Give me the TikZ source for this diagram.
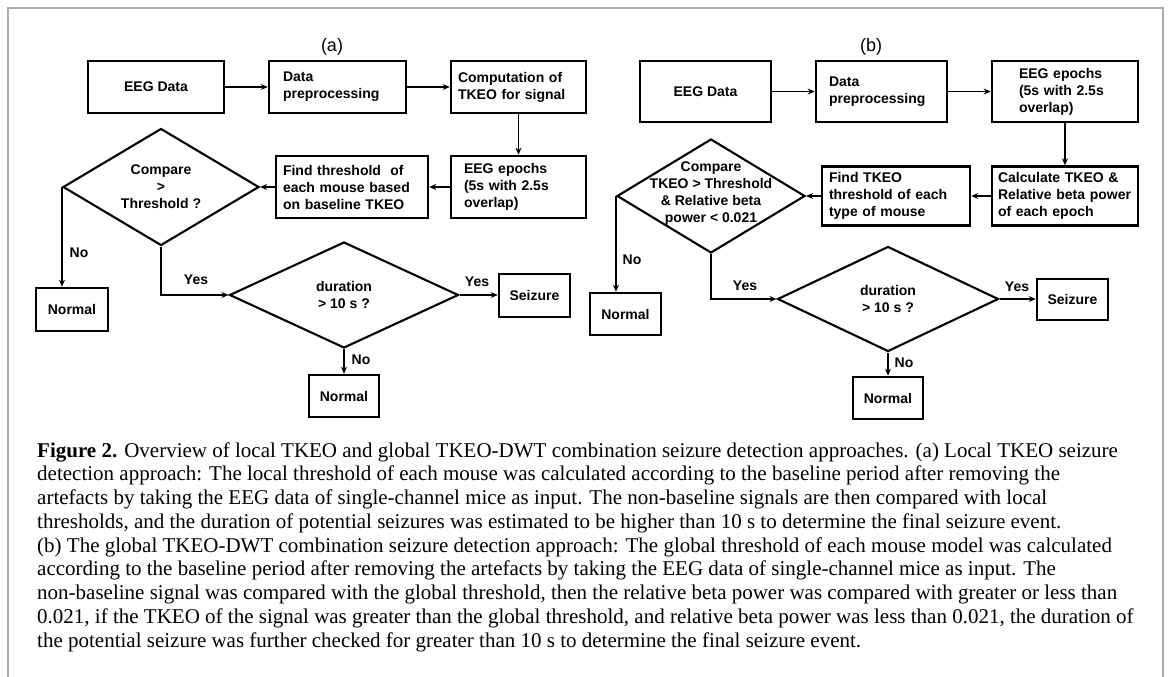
\documentclass[tikz,border=0pt]{standalone}
\usepackage{fontspec}
\setmainfont{Liberation Serif}
\newfontfamily\arial{Liberation Sans}
\usetikzlibrary{shapes.geometric,arrows.meta}
\definecolor{framec}{HTML}{ABABAB}
\begin{document}
\begin{tikzpicture}[x=1pt,y=-1pt,
  every node/.style={font=\arial\bfseries\fontsize{14}{17}\selectfont},
  cbox/.style 2 args={draw,line width=2.5pt,minimum width=#1,minimum height=#2,inner sep=0pt,align=center},
  lbox/.style n args={4}{draw,line width=2.5pt,minimum width=#1,minimum height=#2,inner ysep=0pt,inner xsep=#3,text width=#4,align=left},
  dia/.style 2 args={diamond,draw,line width=2.1pt,minimum width=#1,minimum height=#2,inner sep=0pt},
  arr/.style={line width=1.6pt,-{Stealth[length=7pt,width=6pt]}},
  plabel/.style={font=\arial\fontsize{18}{21}\selectfont},
  captext/.style={font=\rmfamily\mdseries\fontsize{21}{23.75}\selectfont,anchor=base west,inner sep=0pt}]
\useasboundingbox (0,0) rectangle (1168,677);
\draw[framec,line width=1.5pt] (8,677) -- (8,8) -- (1163,8) -- (1163,677);

% ---------- panel (a)
\node[plabel] (la) at (332,47) {(a)};
\node[cbox={136pt}{52pt}] (a1) at (156,87) {EEG Data};
\node[lbox={137pt}{52pt}{14pt}{109pt}] (a2) at (337.5,87) {Data\\preprocessing};
\node[lbox={135pt}{52pt}{7pt}{121pt}] (a3) at (518.5,87) {Computation of\\TKEO for signal};
\node[lbox={135pt}{62pt}{13pt}{109pt}] (a4) at (518.5,187) {EEG epochs\\(5s with 2.5s\\overlap)};
\node[lbox={152pt}{62pt}{7pt}{138pt}] (a5) at (352,187) {Find threshold\ \ of\\each mouse based\\on baseline TKEO};
\node[dia={196pt}{117pt}] (a6) at (161,187) {};
\node[align=center] (a6t) at (a6.center) {Compare\\>\\Threshold ?};
\node[cbox={72pt}{43pt}] (a7) at (72,309.5) {Normal};
\node[dia={229pt}{106pt}] (a8) at (344,295) {};
\node[align=center] (a8t) at (a8.center) {duration\\> 10 s ?};
\node[cbox={71pt}{43pt}] (a9) at (534.5,295.5) {Seizure};
\node[cbox={70pt}{42pt}] (a10) at (344,396) {Normal};

\draw[arr] (a1) -- (a2);
\draw[arr] (a2) -- (a3);
\draw[arr] (a3) -- (a4);
\draw[arr] (a4) -- (a5);
\draw[arr] (a5) -- (a6.east);
\draw[arr] (a6.west) -- (a6.west |- a7.north);
\draw[arr] (a6.south) |- (a8.west);
\draw[arr] (a8.east) -- (a8.east -| a9.west);
\draw[arr] (a8.south) -- (a10.north);

\node (a6no) at (79,253) {No};
\node (a6yes) at (196,280) {Yes};
\node (a8yes) at (477,282) {Yes};
\node (a8no) at (361,360) {No};

% ---------- panel (b)
\node[plabel] (lb) at (871,47) {(b)};
\node[cbox={131pt}{61pt}] (b1) at (705.5,91.5) {EEG Data};
\node[lbox={131pt}{61pt}{13pt}{105pt}] (b2) at (881.5,91.5) {Data\\preprocessing};
\node[lbox={146pt}{61pt}{27pt}{92pt}] (b3) at (1065,91.5) {EEG epochs\\(5s with 2.5s\\overlap)};
\node[lbox={146pt}{59pt}{6pt}{134pt}] (b4) at (1065,196) {Calculate TKEO \&\\Relative beta power\\of each epoch};
\node[lbox={148pt}{59pt}{7pt}{134pt}] (b5) at (896,196) {Find TKEO\\threshold of each\\type of mouse};
\node[dia={188pt}{114pt}] (b6) at (711,196) {};
\node[align=center] (b6t) at (711,194) {Compare\\TKEO > Threshold\\\& Relative beta\\power < 0.021};
\node[cbox={71pt}{42pt}] (b7) at (625.5,314) {Normal};
\node[dia={221pt}{105pt}] (b8) at (888,299) {};
\node[align=center] (b8t) at (b8.center) {duration\\> 10 s ?};
\node[cbox={71pt}{41pt}] (b9) at (1072.5,299.5) {Seizure};
\node[cbox={70pt}{42pt}] (b10) at (888,398) {Normal};

\draw[arr] (b1) -- (b2);
\draw[arr] (b2) -- (b3);
\draw[arr] (b3) -- (b4);
\draw[arr] (b4) -- (b5);
\draw[arr] (b5) -- (b6.east);
\draw[arr] (b6.west) -- (b6.west |- b7.north);
\draw[arr] (b6.south) |- (b8.west);
\draw[arr] (b8.east) -- (b8.east -| b9.west);
\draw[arr] (b8.south) -- (b10.north);

\node (b6no) at (632,260) {No};
\node (b6yes) at (745,286) {Yes};
\node (b8yes) at (1017,287) {Yes};
\node (b8no) at (904,363) {No};

% ---------- caption
\node[captext] (c1) at (37,457) {\textbf{Figure 2.} Overview of local TKEO and global TKEO-DWT combination seizure detection approaches. (a) Local TKEO seizure};
\node[captext] (c2) at (37,480.75) {detection approach: The local threshold of each mouse was calculated according to the baseline period after removing the};
\node[captext] (c3) at (37,504.5) {artefacts by taking the EEG data of single-channel mice as input. The non-baseline signals are then compared with local};
\node[captext] (c4) at (37,528.25) {thresholds, and the duration of potential seizures was estimated to be higher than 10 s to determine the final seizure event.};
\node[captext] (c5) at (37,552) {(b) The global TKEO-DWT combination seizure detection approach: The global threshold of each mouse model was calculated};
\node[captext] (c6) at (37,575.75) {according to the baseline period after removing the artefacts by taking the EEG data of single-channel mice as input. The};
\node[captext] (c7) at (37,599.5) {non-baseline signal was compared with the global threshold, then the relative beta power was compared with greater or less than};
\node[captext] (c8) at (37,623.25) {0.021, if the TKEO of the signal was greater than the global threshold, and relative beta power was less than 0.021, the duration of};
\node[captext] (c9) at (37,647) {the potential seizure was further checked for greater than 10 s to determine the final seizure event.};
\end{tikzpicture}
\end{document}
